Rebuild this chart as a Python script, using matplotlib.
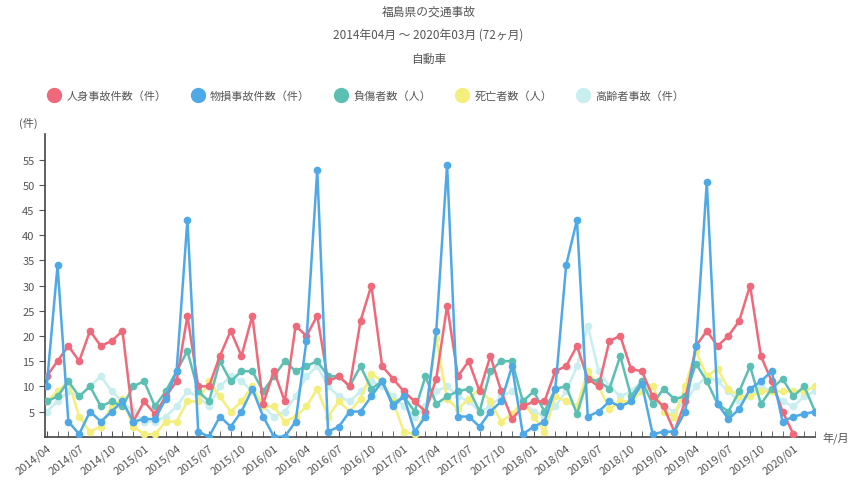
import numpy as np
import pandas as pd
from matplotlib import pyplot as plt
from matplotlib.lines import Line2D

plt.rcParams['font.family'] = ['Noto Sans CJK JP', 'DejaVu Sans']

# 2014/04 .. 2020/03, monthly
months = pd.date_range('2014-04-01', '2020-03-01', freq='MS')
tick_labels = [m.strftime('%Y/%m') for m in months]

series_names = ['人身事故件数（件）', '物損事故件数（件）', '負傷者数（人）', '死亡者数（人）', '高齢者事故（件）']
series_colors = ['#f0697a', '#4fa9e6', '#5cbfb3', '#f4ef7c', '#c9eef0']

red = [12, 15, 18, 15, 21, 18, 19, 21, 3, 7, 4.5, 8, 11, 24, 10, 10, 16, 21, 16, 24,
       6.5, 13, 7, 22, 20, 24, 11, 12, 10, 23, 30, 14, 11.5, 9, 7, 5, 11.5, 26, 12, 15,
       9, 16, 9, 3.5, 6, 7, 7, 13, 14, 18, 11.5, 10, 19, 20, 13.4, 13, 8, 6, 1, 7,
       18, 21, 18, 20, 23, 30, 16, 11, 5, 0.5, None, None]
blue = [10, 34, 3, 0.5, 5, 3, 5, 7, 3, 3.5, 3.5, 7.5, 13, 43, 1, 0, 4, 2, 5, 9.5,
        4, 0, 0, 3, 19, 53, 1, 2, 5, 5, 8, 11, 6, 8, 1, 4, 21, 54, 4, 4,
        2, 5, 7, 14, 0.5, 2, 3, 9.5, 34, 43, 4, 5, 7, 6, 7, 10.5, 0.5, 1, 1, 5,
        18, 50.5, 6.5, 3.5, 5.5, 9.5, 11, 13, 3, 4, 4.5, 5]
teal = [7, 8, 11, 8, 10, 6, 7, 6, 10, 11, 6, 9, 13, 17, 9, 7, 15, 11, 13, 13,
        9, 12, 15, 13, 14, 15, 12, 12, 10, 14, 9.5, 11, 6.5, 8, 5, 12, 6.5, 8, 9, 9.5,
        5, 13, 15, 15, 7, 9, 5, 9.5, 10, 4.5, 11.5, 11, 9.5, 16, 8, 11, 6.5, 9.5, 7.5, 8,
        14.5, 11, 6.5, 5, 9, 14, 6.5, 9.5, 11.5, 8, 10, 5]
yellow = [7, 9, 11, 4, 1, 2, 6, 7.5, 2, 0.5, 0.5, 3, 3, 7, 7, 11, 8, 5, 7, 10,
          6, 6, 3, 4, 6, 9.5, 4, 7, 5, 7.5, 12.5, 11, 7, 1, 0.5, 5, 19.5, 7.5, 5.5, 7.5,
          9.5, 7, 3, 4.5, 7, 4, 1, 8, 7, 6, 13, 10, 5.5, 7, 7, 9, 10, 5, 4, 10,
          17, 12, 13.5, 9.5, 8, 8, 9, 9, 9, 9, 9, 10]
cyan = [5, 7, 9, 8, 10, 12, 9, 7, 5, 3, 3, 4, 6, 9, 8, 6, 10, 12, 11, 9,
        6, 4, 5, 8, 12, 14, 10, 8, 7, 9, 11, 10, 8, 6, 4, 6, 9, 10, 8, 7,
        5, 6, 8, 9, 7, 5, 4, 6, 9, 14, 22, 13, 10, 8, 9, 11, 8, 6, 5, 7,
        10, 12, 11, 9, 7, 8, 10, 9, 7, 6, 8, 9]

df = pd.DataFrame({
    series_names[0]: red,
    series_names[1]: blue,
    series_names[2]: teal,
    series_names[3]: yellow,
    series_names[4]: cyan,
}, index=tick_labels).astype(float)

fig = plt.figure(figsize=(8.57, 4.81), dpi=100)
ax = fig.add_axes([0.0525, 0.090, 0.8985, 0.6287])

x = np.arange(len(df))
# pale ones first so the strong lines sit on top
order = [4, 3, 2, 0, 1]
for z, i in enumerate(order):
    name = series_names[i]
    ax.plot(x, df[name].values, color=series_colors[i], lw=1.8, marker='o',
            markersize=4.5, zorder=2 + z)

ax.set_xlim(-0.16, 71)
ax.set_ylim(0, 60)
ax.set_yticks(np.arange(5, 60, 5))
ax.set_xticks(x, minor=True)
ax.set_xticks(x[::3])
ax.set_xticklabels(tick_labels[::3], rotation=38, ha='right', rotation_mode='anchor')
ax.tick_params(axis='x', which='both', direction='in', length=4, color='#555555',
               labelsize=8, labelcolor='#555555', pad=4)
ax.tick_params(axis='y', direction='out', length=4, color='#555555',
               labelsize=8, labelcolor='#555555')
for side in ['top', 'right']:
    ax.spines[side].set_visible(False)
for side in ['left', 'bottom']:
    ax.spines[side].set_color('#444444')
    ax.spines[side].set_linewidth(1.2)

ax.text(-0.01, 1.02, '(件)', transform=ax.transAxes, ha='right', va='bottom',
        fontsize=8, color='#555555')
ax.text(1.01, 0.0, '年/月', transform=ax.transAxes, ha='left', va='center',
        fontsize=8, color='#555555')

fig.text(0.5, 0.975, '福島県の交通事故', ha='center', va='center', fontsize=8.5, color='#555555')
fig.text(0.5, 0.928, '2014年04月 ～ 2020年03月 (72ヶ月)', ha='center', va='center',
         fontsize=8.5, color='#555555')
fig.text(0.5, 0.876, '自動車', ha='center', va='center', fontsize=8.5, color='#555555')

legend_handles = [Line2D([], [], ls='none', marker='o', markersize=10,
                         color=c) for c in series_colors]
fig.legend(legend_handles, series_names, loc='center left',
           bbox_to_anchor=(0.045, 0.80), ncol=5, frameon=False, fontsize=8,
           columnspacing=2.3, handlelength=1.0, handletextpad=0.6,
           labelcolor='#555555')

fig.savefig('out.png', dpi=100)
